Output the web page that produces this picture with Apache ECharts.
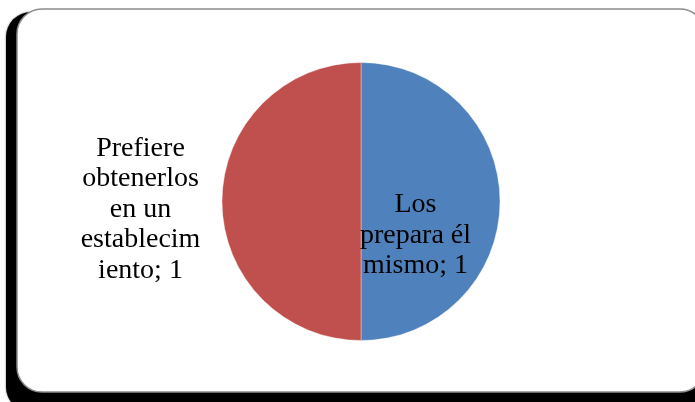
<!DOCTYPE html>
<html>
<head>
<meta charset="utf-8">
<script src="https://cdn.jsdelivr.net/npm/echarts@6/dist/echarts.min.js"></script>
<style>
  html, body { margin: 0; padding: 0; background: #ffffff; }
  #chart { width: 695px; height: 402px; }
</style>
</head>
<body>
<div id="chart"></div>
<script>
// Slices run clockwise from 12 o'clock
const categories = ['Los prepara él mismo', 'Prefiere obtenerlos en un establecimiento'];
const values = [1, 1];
const colors = ['#4F81BD', '#C0504D'];

// Per-slice label wrap width and shift from the slice's inner anchor point
const labelWidths = [120, 122];
const labelShifts = [[-18, 34], [-148, 8]];

const LABEL_FONT = '28px "Liberation Serif", "Times New Roman", serif';

// Word-wrap a label to a pixel width; words longer than the width are split
function wrapText(text, maxWidth) {
  const ctx = document.createElement('canvas').getContext('2d');
  ctx.font = LABEL_FONT;
  const fits = s => ctx.measureText(s).width <= maxWidth;
  const lines = [];
  let line = '';
  text.split(' ').forEach(word => {
    const candidate = line ? line + ' ' + word : word;
    if (fits(candidate)) { line = candidate; return; }
    if (line) { lines.push(line); line = ''; }
    while (!fits(word)) {
      let n = word.length;
      while (n > 1 && !fits(word.slice(0, n))) n--;
      lines.push(word.slice(0, n));
      word = word.slice(n);
    }
    line = word;
  });
  if (line) lines.push(line);
  return lines.join('\n');
}

const chart = echarts.init(document.getElementById('chart'), null, { renderer: 'canvas' });

const data = categories.map((name, i) => ({
  name: name,
  value: values[i],
  itemStyle: { color: colors[i] }
}));

chart.setOption({
  animation: false,
  graphic: [
    {
      type: 'rect',
      z: -2,
      shape: { x: 6, y: 12, width: 694, height: 400, r: 25 },
      style: { fill: '#000000', shadowBlur: 2, shadowColor: 'rgba(0,0,0,0.6)' }
    },
    {
      type: 'rect',
      z: -1,
      shape: { x: 17, y: 9, width: 688, height: 383, r: 25 },
      style: { fill: '#ffffff', stroke: '#8c8c8c', lineWidth: 1.5 }
    }
  ],
  series: [
    {
      type: 'pie',
      center: [361, 201.5],
      radius: 139,
      startAngle: 90,
      clockwise: true,
      avoidLabelOverlap: false,
      data: data,
      itemStyle: { borderColor: 'rgba(255,255,255,0.6)', borderWidth: 0.6 },
      label: {
        show: true,
        position: 'inside',
        formatter: p => wrapText(p.name + '; ' + p.value, labelWidths[p.dataIndex]),
        color: '#000000',
        fontFamily: '"Liberation Serif", "Times New Roman", serif',
        fontSize: 28,
        lineHeight: 30.5,
        align: 'center'
      },
      labelLayout: function (params) {
        const s = labelShifts[params.dataIndex];
        return { dx: s[0], dy: s[1] };
      },
      labelLine: { show: false },
      emphasis: { disabled: true }
    }
  ]
});
</script>
</body>
</html>
